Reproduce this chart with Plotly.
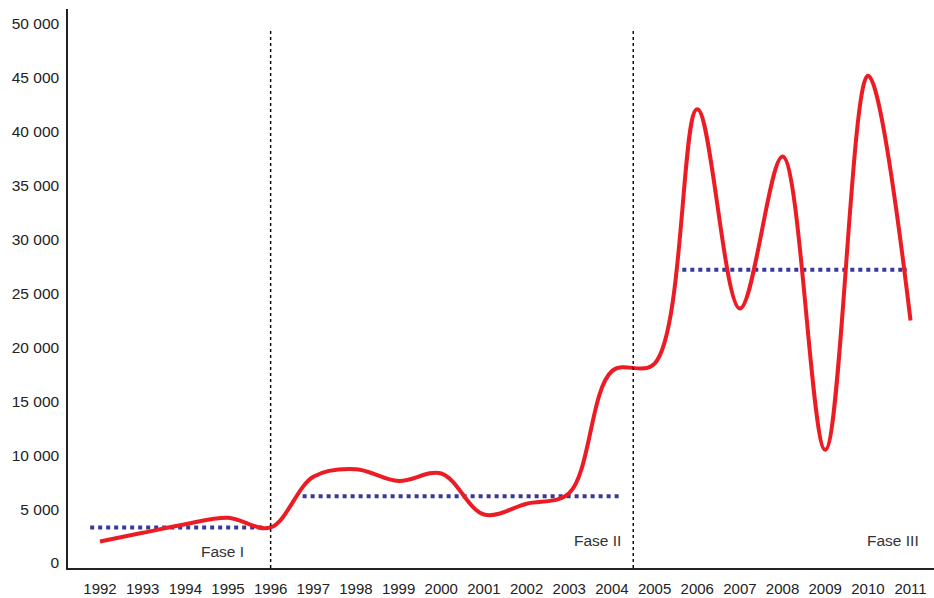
import plotly.graph_objects as go

years = list(range(1992, 2012))
values = [2000, 2800, 3600, 4200, 3300, 8000, 8700, 7600, 8300, 4500,
          5500, 6500, 17800, 18500, 42100, 23600, 37700, 10500, 45200, 22500]

phase_names = ["Fase I", "Fase II", "Fase III"]
phase_start = [1991.77, 1996.75, 2005.65]
phase_end = [1995.86, 2004.18, 2010.92]
phase_mean = [3300, 6200, 27200]

divider_x = [1996, 2004.5]
divider_top = 49350

label_x = [1995.42, 2004.27, 2011.25]
label_y = [1100, 2050, 2050]

fig = go.Figure()

for s, e, m in zip(phase_start, phase_end, phase_mean):
    fig.add_trace(go.Scatter(x=[s, e], y=[m, m], mode="lines",
                             line=dict(color="#38389a", width=4, dash="dot"),
                             showlegend=False, hoverinfo="skip"))

fig.add_trace(go.Scatter(x=years, y=values, mode="lines",
                         line=dict(color="#ec1c24", width=4, shape="spline", smoothing=1.0),
                         showlegend=False))

for dx in divider_x:
    fig.add_trace(go.Scatter(x=[dx, dx], y=[-464, divider_top], mode="lines",
                             line=dict(color="#111111", width=1.5, dash="dot"),
                             showlegend=False, hoverinfo="skip"))

for name, lx, ly in zip(phase_names, label_x, label_y):
    fig.add_annotation(x=lx, y=ly, text=name, showarrow=False, xanchor="right",
                       yanchor="middle", font=dict(size=15.5, color="#333333"))

fig.update_layout(
    width=934, height=598,
    margin=dict(l=68, r=0, t=9, b=30),
    paper_bgcolor="white", plot_bgcolor="white",
    font=dict(family="Liberation Sans, Arial, sans-serif", size=15, color="#222222"),
    separators=". ",
    xaxis=dict(range=[1991.25, 2011.55], tickmode="array", tickvals=years,
               ticktext=[str(y) for y in years], showgrid=False, zeroline=False,
               showline=True, linecolor="#222222", linewidth=1.5, ticks="",
               ticklen=0, tickfont=dict(size=15), automargin=False,
               ticklabelstandoff=6),
    yaxis=dict(range=[-464, 51390], tickvals=list(range(0, 50001, 5000)),
               tickformat=",", showgrid=False, zeroline=False, showline=True,
               linecolor="#222222", linewidth=1.5, ticks="", tickfont=dict(size=15.5),
               automargin=False, ticklabelstandoff=4),
)

fig.write_html("out.html", config={"displayModeBar": False},
               post_script="document.body.style.margin='0';document.body.style.overflow='hidden';")
